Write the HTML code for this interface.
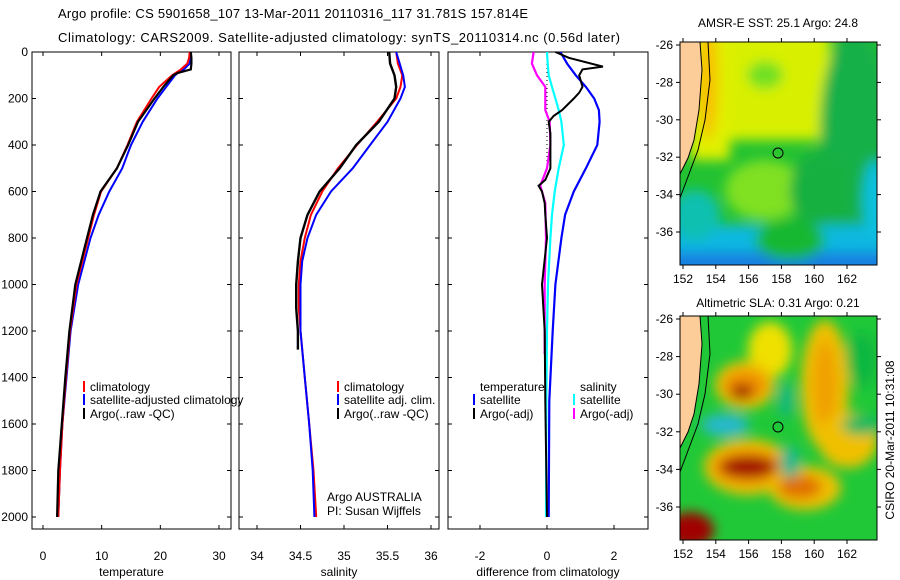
<!DOCTYPE html>
<html><head><meta charset="utf-8"><style>
html,body{margin:0;padding:0;background:#fff;}
svg{display:block;font-family:"Liberation Sans",sans-serif;}
</style></head><body>
<svg id="fig" width="900" height="580" viewBox="0 0 900 580" xmlns="http://www.w3.org/2000/svg">
<defs>
<filter id="b6" x="-50%" y="-50%" width="200%" height="200%"><feGaussianBlur stdDeviation="6"/></filter>
<clipPath id="cm1"><rect x="680" y="42" width="197" height="223"/></clipPath>
<clipPath id="cm2"><rect x="680" y="316" width="197" height="224"/></clipPath>
</defs>
<text x="58" y="18" font-size="13" textLength="470">Argo profile: CS 5901658_107 13-Mar-2011 20110316_117 31.781S 157.814E</text>
<text x="58" y="42" font-size="13" textLength="562">Climatology: CARS2009. Satellite-adjusted climatology: synTS_20110314.nc (0.56d later)</text>

<g id="maps">
 <g clip-path="url(#cm1)">
  <rect x="680" y="42" width="197" height="223" fill="#22c232"/>
  <g filter="url(#b6)">
   <rect x="700" y="20" width="130" height="120" fill="#d8f000"/>
   <rect x="690" y="20" width="40" height="140" fill="#e0f000"/>
   <ellipse cx="708" cy="80" rx="10" ry="60" fill="#f8c000"/>
   <ellipse cx="765" cy="75" rx="18" ry="14" fill="#70e020"/>
   <ellipse cx="765" cy="190" rx="40" ry="30" fill="#80e020"/>
   <ellipse cx="855" cy="130" rx="35" ry="100" fill="#12b048"/>
   <ellipse cx="820" cy="190" rx="30" ry="40" fill="#14b040"/>
   <rect x="660" y="225" width="250" height="60" fill="#10b8e0"/>
   <rect x="660" y="252" width="250" height="30" fill="#1880e0"/>
   <ellipse cx="695" cy="215" rx="25" ry="25" fill="#10c0b0"/>
   <ellipse cx="875" cy="200" rx="12" ry="40" fill="#10c0e0"/>
   <ellipse cx="790" cy="240" rx="35" ry="20" fill="#18b830"/>
  </g>
 </g>
 <g clip-path="url(#cm2)">
  <rect x="680" y="316" width="197" height="224" fill="#20c838"/>
  <g filter="url(#b6)">
   <ellipse cx="770" cy="350" rx="22" ry="28" fill="#f0e000"/>
   <ellipse cx="825" cy="385" rx="24" ry="65" fill="#f0c000"/>
   <ellipse cx="825" cy="385" rx="12" ry="45" fill="#f0a000"/>
   <ellipse cx="848" cy="440" rx="30" ry="28" fill="#f0c000"/>
   <ellipse cx="745" cy="385" rx="30" ry="24" fill="#f0c000"/>
   <ellipse cx="745" cy="385" rx="22" ry="15" fill="#f09000"/>
   <ellipse cx="742" cy="392" rx="12" ry="8" fill="#a02000"/>
   <ellipse cx="748" cy="467" rx="44" ry="28" fill="#f0c000"/>
   <ellipse cx="748" cy="467" rx="36" ry="18" fill="#f09000"/>
   <ellipse cx="748" cy="467" rx="28" ry="11" fill="#a00000"/>
   <ellipse cx="805" cy="488" rx="36" ry="22" fill="#f0c000"/>
   <ellipse cx="800" cy="487" rx="22" ry="12" fill="#e07000"/>
   <ellipse cx="690" cy="530" rx="24" ry="18" fill="#a00000"/>
   <ellipse cx="725" cy="425" rx="24" ry="11" fill="#28b8d0"/>
   <ellipse cx="786" cy="400" rx="8" ry="18" fill="#18b880"/>
   <ellipse cx="790" cy="462" rx="10" ry="16" fill="#18b890"/>
   <ellipse cx="862" cy="360" rx="16" ry="28" fill="#10b840"/>
   <ellipse cx="862" cy="425" rx="20" ry="10" fill="#18b860"/>
  </g>
 </g>
 <g>
  <path d="M680,42 L700,42 L702,70 L699,110 L694,140 L688,158 L680,174 Z" fill="#fccc99" stroke="#000" stroke-width="1"/>
  <path d="M708,42 L710,80 L705,120 L698,150 L680,198" fill="none" stroke="#000" stroke-width="1"/>
  <path d="M680,316 L700,316 L702,344 L699,384 L694,414 L688,432 L680,448 Z" fill="#fccc99" stroke="#000" stroke-width="1"/>
  <path d="M708,316 L710,354 L705,394 L698,424 L680,472" fill="none" stroke="#000" stroke-width="1"/>
 </g>
 <circle cx="778" cy="153" r="5" fill="none" stroke="#000"/>
 <circle cx="778" cy="427" r="5" fill="none" stroke="#000"/>
 <text x="778" y="27" font-size="12" text-anchor="middle">AMSR-E SST: 25.1 Argo: 24.8</text>
 <text x="778" y="307" font-size="12" text-anchor="middle">Altimetric SLA: 0.31 Argo: 0.21</text>
 <text transform="translate(894,440) rotate(-90)" font-size="12" text-anchor="middle">CSIRO 20-Mar-2011 10:31:08</text>
</g>
<g id="plots"></g>
</svg>
<script>
// ---- data ----
const depthT = [0,25,50,75,90,100,150,200,300,400,500,600,700,800,1000,1200,1400,1600,1800,2000];
const tempClim = [25.0,24.9,24.6,23.5,22.6,22.0,19.8,18.5,16.0,14.4,12.6,9.9,8.7,7.7,5.7,4.6,3.9,3.3,2.9,2.6];
const tempSat  = [25.2,25.1,25.0,24.0,23.0,22.5,21.0,19.5,17.0,15.0,13.5,11.3,9.5,8.1,6.0,4.7,4.0,3.3,2.9,2.6];
const tempArgo = [25.2,25.3,25.3,25.2,23.0,22.2,20.5,19.0,16.2,14.5,12.6,9.8,8.5,7.5,5.5,4.5,3.8,3.2,2.6,2.4];
const depthS = [0,50,100,150,200,300,400,500,600,700,800,900,1000,1100,1200,1400,1600,1800,2000];
const salClim = [35.60,35.62,35.67,35.65,35.60,35.38,35.15,34.93,34.75,34.62,34.55,34.50,34.48,34.48,34.50,34.55,34.60,34.65,34.68];
const salSat  = [35.60,35.64,35.68,35.70,35.65,35.50,35.30,35.10,34.85,34.68,34.58,34.52,34.50,34.50,34.50,34.55,34.60,34.64,34.66];
const depthSA = [0,50,100,150,200,300,400,500,600,700,800,900,1000,1100,1200,1280];
const salArgo = [35.52,35.53,35.58,35.60,35.58,35.40,35.14,34.95,34.72,34.58,34.50,34.47,34.45,34.45,34.47,34.47];
const depthD = [0,50,100,150,200,250,300,400,500,600,700,800,1000,1200,1500,2000];
const dTempSat = [0.40,0.60,0.86,1.16,1.41,1.55,1.57,1.50,1.16,0.80,0.54,0.43,0.25,0.17,0.07,0.05];
const dSalSat  = [0.00,0.02,0.05,0.15,0.25,0.35,0.43,0.50,0.35,0.23,0.15,0.10,0.03,0.00,-0.02,-0.03];
const depthDA = [0,25,63,75,100,150,175,200,250,275,300,350,400,500,550,575,600,650,700,800,1000,1200,1500,2000];
const dTempArgo = [0.25,0.65,1.67,1.06,0.96,1.06,0.96,0.80,0.45,0.20,0.05,0.10,0.10,0.10,-0.05,-0.25,-0.15,-0.07,-0.05,0.00,-0.15,-0.07,-0.05,0.00];
const depthDS = [0,50,100,150,200,250,300,400,500,575,650,800,1000,1300];
const dSalArgo = [-0.40,-0.45,-0.30,-0.05,-0.05,-0.05,0.08,0.10,0.00,-0.20,-0.05,-0.03,-0.07,-0.07];
const depthTicks = [0,200,400,600,800,1000,1200,1400,1600,1800,2000];
const tempTicks = [0,10,20,30];
const salTicks = [34,34.5,35,35.5,36];
const diffTicks = [-2,0,2];
const latTicks = [-26,-28,-30,-32,-34,-36];
const lonTicks = [152,154,156,158,160,162];

const NS='http://www.w3.org/2000/svg';
const root=document.getElementById('plots');
function mk(tag,attrs,parent){const e=document.createElementNS(NS,tag);for(const k in attrs)e.setAttribute(k,attrs[k]);(parent||root).appendChild(e);return e;}
const yTop=52, yBot=529;
function yD(d){return 52+d*0.2325;}
function lin(d0,d1,p0,p1){return v=>p0+(v-d0)*(p1-p0)/(d1-d0);}

const panels=[
 {name:'temperature-panel',x0:32,x1:231,sx:lin(0,30,43,219),ticks:tempTicks,label:'temperature',depthLabels:true},
 {name:'salinity-panel',x0:239,x1:439,sx:lin(34,36,257,431),ticks:salTicks,label:'salinity'},
 {name:'difference-panel',x0:448,x1:648,sx:lin(-2,2,480,614),ticks:diffTicks,label:'difference from climatology'}
];
panels.forEach(p=>{
 const g=mk('g',{});
 
 
 p.g=g;
 const fr=mk('rect',{x:p.x0,y:yTop,width:p.x1-p.x0,height:yBot-yTop,fill:'none',stroke:'#000','stroke-width':1},g);
 
 
 depthTicks.forEach(d=>{
  const y=yD(d);
  mk('line',{x1:p.x0,x2:p.x0+4,y1:y,y2:y,stroke:'#000'},g);
  mk('line',{x1:p.x1,x2:p.x1-4,y1:y,y2:y,stroke:'#000'},g);
  if(p.depthLabels){const t=mk('text',{x:p.x0-4,y:y+4,'font-size':12,'text-anchor':'end'},g);t.textContent=d;
   
   }
 });
 p.ticks.forEach(v=>{
  const x=p.sx(v);
  mk('line',{x1:x,x2:x,y1:yBot,y2:yBot-4,stroke:'#000'},g);
  mk('line',{x1:x,x2:x,y1:yTop,y2:yTop+4,stroke:'#000'},g);
  const t=mk('text',{x:x,y:yBot+31,'font-size':12,'text-anchor':'middle'},g);
  t.textContent=v;
  
  
 });
 const xl=mk('text',{x:(p.x0+p.x1)/2,y:576,'font-size':12,'text-anchor':'middle'},g);
 xl.textContent=p.label;
 
 
});
function line(p,vals,deps,color,w,name){
 const pts=vals.map((v,i)=>p.sx(v).toFixed(1)+','+yD(deps[i]).toFixed(1)).join(' ');
 const e=mk('polyline',{points:pts,fill:'none',stroke:color,'stroke-width':w},p.g);
 
 
}
const [pT,pS,pD]=panels;
line(pT,tempSat,depthT,'#0000ff',2,'temp-satellite-line');
line(pT,tempClim,depthT,'#ff0000',2,'temp-climatology-line');
line(pT,tempArgo,depthT,'#000000',2.2,'temp-argo-line');
line(pS,salClim,depthS,'#ff0000',2,'sal-climatology-line');
line(pS,salSat,depthS,'#0000ff',2,'sal-satellite-line');
line(pS,salArgo,depthSA,'#000000',2.4,'sal-argo-line');
const z=mk('line',{x1:pD.sx(0),x2:pD.sx(0),y1:yD(0),y2:yD(500),stroke:'#000','stroke-dasharray':'1,3'},pD.g);


line(pD,dSalSat,depthD,'#00ffff',2.2,'diff-sal-satellite-line');
line(pD,dTempSat,depthD,'#0000ff',2.2,'diff-temp-satellite-line');
line(pD,dSalArgo,depthDS,'#ff00ff',2.2,'diff-sal-argo-line');
line(pD,dTempArgo,depthDA,'#000000',2,'diff-temp-argo-line');

function legend(x,y,color,text,g){
 if(color){const b=mk('rect',{x:x,y:y-10,width:2,height:11,fill:color},g);
  
  }
 const t=mk('text',{x:x+7,y:y,'font-size':12},g);t.textContent=text;
 
 
}
legend(83,391,'#ff0000','climatology',pT.g);
legend(83,404,'#0000ff','satellite-adjusted climatology',pT.g);
legend(83,418,'#000000','Argo(..raw -QC)',pT.g);
legend(337,391,'#ff0000','climatology',pS.g);
legend(337,404,'#0000ff','satellite adj. clim.',pS.g);
legend(337,418,'#000000','Argo(..raw -QC)',pS.g);
legend(473,391,null,'temperature',pD.g);
legend(473,404,'#0000ff','satellite',pD.g);
legend(473,418,'#000000','Argo(-adj)',pD.g);
legend(573,391,null,'salinity',pD.g);
legend(573,404,'#00ffff','satellite',pD.g);
legend(573,418,'#ff00ff','Argo(-adj)',pD.g);
const a1=mk('text',{x:327,y:501,'font-size':12},pS.g);a1.textContent='Argo AUSTRALIA';


const a2=mk('text',{x:327,y:515,'font-size':12},pS.g);a2.textContent='PI: Susan Wijffels';



// map axes
const mapG=document.getElementById('maps');
const lonX=lin(152,162,683,847);
[{y0:42,y1:265,ly:lin(-26,-36,45,232)},{y0:316,y1:540,ly:lin(-26,-36,319,507)}].forEach(m=>{
 const fr=mk('rect',{x:680,y:m.y0,width:197,height:m.y1-m.y0,fill:'none',stroke:'#000'},mapG);
 
 
 latTicks.forEach(v=>{const y=m.ly(v);
  mk('line',{x1:680,x2:676,y1:y,y2:y,stroke:'#000'},mapG);
  mk('line',{x1:877,x2:881,y1:y,y2:y,stroke:'#000'},mapG);
  const t=mk('text',{x:673,y:y+4,'font-size':12,'text-anchor':'end'},mapG);t.textContent=v;
  
  });
 lonTicks.forEach(v=>{const x=lonX(v);
  mk('line',{x1:x,x2:x,y1:m.y1,y2:m.y1+4,stroke:'#000'},mapG);
  mk('line',{x1:x,x2:x,y1:m.y0,y2:m.y0-4,stroke:'#000'},mapG);
  const t=mk('text',{x:x,y:m.y1+18,'font-size':12,'text-anchor':'middle'},mapG);t.textContent=v;
  
  });
});
</script>
</body></html>
